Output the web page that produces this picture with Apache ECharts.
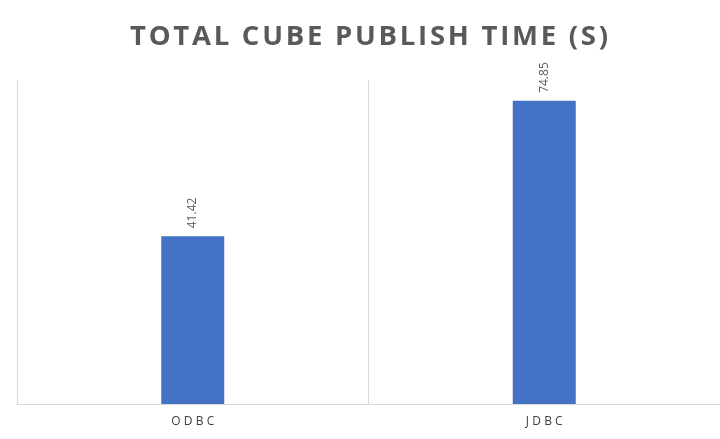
<!DOCTYPE html>
<html>
<head>
<meta charset="utf-8">
<script src="https://cdn.jsdelivr.net/npm/echarts@6/dist/echarts.min.js"></script>
<style>
  html, body { margin: 0; padding: 0; background: #fff; }
  #chart { width: 720px; height: 439px; }
</style>
</head>
<body>
<div id="chart"></div>
<script>
// chart data
const categories = ['ODBC', 'JDBC'];
const publishTimes = [41.42, 74.85];
const chartTitle = 'TOTAL CUBE PUBLISH TIME (S)';

// spread letters a bit (like the office chart style)
const spaced = (s, sep) => s.split('').join(sep);

const myChart = echarts.init(document.getElementById('chart'));
const option = {
  animation: false,
  title: {
    text: spaced(chartTitle, '\u200a'),
    left: 364,
    textAlign: 'center',
    top: 18,
    textStyle: {
      color: '#595959',
      fontFamily: 'Open Sans',
      fontSize: 27.5,
      fontWeight: 'bold',
    },
  },
  grid: {
    left: 17,
    top: 80,
    width: 708,
    height: 324,
    containLabel: false,
  },
  xAxis: {
    type: 'category',
    data: categories,
    axisLine: { lineStyle: { color: '#d9d9d9', width: 1 } },
    axisTick: { show: false },
    axisLabel: {
      color: '#404040',
      fontFamily: 'Open Sans',
      fontSize: 12,
      margin: 12,
      formatter: (v) => spaced(v, '\u2009\u200a'),
    },
    splitLine: { show: true, lineStyle: { color: '#d9d9d9', width: 1 } },
  },
  yAxis: {
    type: 'value',
    min: 0,
    max: 80,
    show: false,
    splitLine: { show: false },
  },
  series: [
    {
      type: 'bar',
      data: publishTimes,
      barWidth: 63,
      itemStyle: { color: '#4472c4' },
      label: {
        show: true,
        position: 'top',
        rotate: 90,
        align: 'left',
        verticalAlign: 'middle',
        distance: 8,
        color: '#595959',
        fontFamily: 'Open Sans',
        fontSize: 12,
      },
    },
  ],
};
myChart.setOption(option);
</script>
</body>
</html>
